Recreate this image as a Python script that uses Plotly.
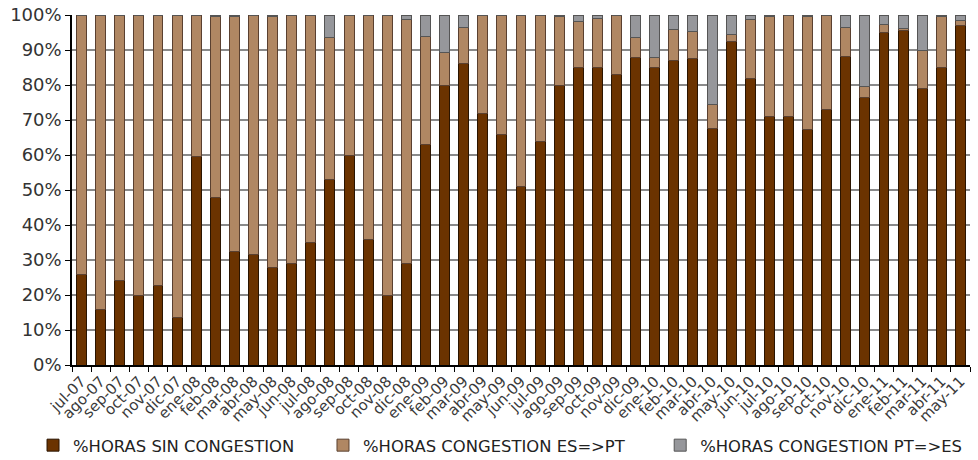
import plotly.graph_objects as go

months = ["jul-07", "ago-07", "sep-07", "oct-07", "nov-07", "dic-07",
          "ene-08", "feb-08", "mar-08", "abr-08", "may-08", "jun-08",
          "jul-08", "ago-08", "sep-08", "oct-08", "nov-08", "dic-08",
          "ene-09", "feb-09", "mar-09", "abr-09", "may-09", "jun-09",
          "jul-09", "ago-09", "sep-09", "oct-09", "nov-09", "dic-09",
          "ene-10", "feb-10", "mar-10", "abr-10", "may-10", "jun-10",
          "jul-10", "ago-10", "sep-10", "oct-10", "nov-10", "dic-10",
          "ene-11", "feb-11", "mar-11", "abr-11", "may-11"]

sin_congestion = [26, 16, 24.2, 20, 22.8, 13.5, 59.7, 48, 32.3, 31.7, 28, 29,
                  35, 53, 60, 35.9, 19.8, 28.9, 63, 79.9, 86.1, 72, 65.9, 50.9,
                  63.9, 79.9, 85, 85, 83, 87.9, 84.9, 86.9, 87.7, 67.5, 92.4, 81.8,
                  70.9, 71.1, 67.3, 72.9, 88.2, 76.5, 95.1, 95.6, 79, 84.9, 97.1]

congestion_es_pt = [74, 84, 75.8, 80, 77.1, 86.3, 40.3, 51.7, 67.4, 68.3, 71.7, 71,
                    65, 40.5, 40, 64.1, 80.2, 69.9, 31, 9.5, 10.4, 27.8, 34, 49,
                    36.1, 19.7, 13.2, 14, 17, 5.7, 2.9, 9.1, 7.5, 6.9, 2, 17,
                    28.8, 28.9, 32.3, 27.1, 8.3, 3, 2.1, 0.5, 10.9, 14.7, 1.3]

congestion_pt_es = [0, 0, 0, 0, 0.1, 0.2, 0, 0.3, 0.3, 0, 0.3, 0,
                    0, 6.5, 0, 0, 0, 1.2, 6, 10.6, 3.5, 0.2, 0.1, 0.1,
                    0, 0.4, 1.8, 1, 0, 6.4, 12.2, 4, 4.8, 25.6, 5.6, 1.2,
                    0.3, 0, 0.4, 0, 3.5, 20.5, 2.8, 3.9, 10.1, 0.4, 1.6]

series = [
    ("%HORAS SIN CONGESTION", sin_congestion, "#6B3300", "#2a1400", "legend", -0.0434),
    ("%HORAS CONGESTION ES=>PT", congestion_es_pt, "#B08763", "#5a4030", "legend2", 0.2795),
    ("%HORAS CONGESTION PT=>ES", congestion_pt_es, "#96979B", "#555555", "legend3", 0.655),
]

FONT = "DejaVu Sans, Verdana, sans-serif"

fig = go.Figure()
legends = {}
for name, vals, col, lcol, leg, lx in series:
    fig.add_trace(go.Bar(
        x=months, y=vals, name=name, legend=leg,
        marker=dict(color=col, line=dict(color=lcol, width=1)),
    ))
    legends[leg] = dict(orientation="h", x=lx, y=-0.23, xanchor="left", yanchor="middle",
                        font=dict(family=FONT, size=16.4, color="#222222"),
                        itemwidth=30, bgcolor="rgba(0,0,0,0)")

fig.update_layout(
    barmode="stack",
    bargap=0.48,
    width=978, height=460,
    margin=dict(l=72, r=8, t=15, b=95, autoexpand=False),
    paper_bgcolor="white", plot_bgcolor="white",
    font=dict(family=FONT, color="#333333"),
    showlegend=True,
    **legends,
)
fig.update_xaxes(
    type="category", tickangle=-45, tickfont=dict(family=FONT, size=15, color="#3a3a3a"),
    ticks="outside", tickson="boundaries", ticklen=5, tickcolor="#000000",
    showline=True, linecolor="#000000", linewidth=1.5, showgrid=False, automargin=False,
)
fig.update_yaxes(
    range=[0, 100], dtick=10, ticksuffix="%",
    tickfont=dict(family=FONT, size=18, color="#333333"),
    ticks="outside", ticklen=5, tickcolor="#000000",
    showline=True, linecolor="#000000", linewidth=1.5, automargin=False,
    showgrid=True, gridcolor="#8a8a8a", gridwidth=1.5, zeroline=False,
)

fig.write_html("out.html", config={"displayModeBar": False},
               post_script="document.body.style.margin='0';document.body.style.overflow='hidden';")
